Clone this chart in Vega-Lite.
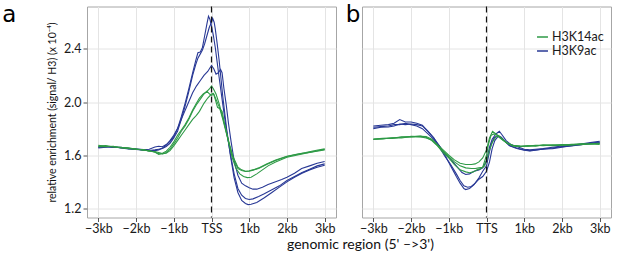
{
"$schema":"https://vega.github.io/schema/vega-lite/v6.json",
"padding":{"left":1,"top":2.5,"right":2,"bottom":0},
"bounds":"flush",
"config":{"font":"Lato","view":{"stroke":"#a6a6a6","strokeWidth":1},"text":{"font":"Lato"}},
"resolve":{"scale":{"color":"independent"},"legend":{"color":"independent"}},
"datasets":{
"a":[
{"s":"H3K9ac","r":1,"x":-3,"y":1.662},{"s":"H3K9ac","r":1,"x":-2.8,"y":1.668},{"s":"H3K9ac","r":1,"x":-2.6,"y":1.661},{"s":"H3K9ac","r":1,"x":-2.4,"y":1.657},{"s":"H3K9ac","r":1,"x":-2.2,"y":1.652},{"s":"H3K9ac","r":1,"x":-2,"y":1.646},{"s":"H3K9ac","r":1,"x":-1.8,"y":1.642},{"s":"H3K9ac","r":1,"x":-1.65,"y":1.645},{"s":"H3K9ac","r":1,"x":-1.5,"y":1.662},{"s":"H3K9ac","r":1,"x":-1.4,"y":1.668},{"s":"H3K9ac","r":1,"x":-1.3,"y":1.664},{"s":"H3K9ac","r":1,"x":-1.2,"y":1.68},{"s":"H3K9ac","r":1,"x":-1.1,"y":1.705},{"s":"H3K9ac","r":1,"x":-1,"y":1.74},{"s":"H3K9ac","r":1,"x":-0.9,"y":1.8},{"s":"H3K9ac","r":1,"x":-0.8,"y":1.89},{"s":"H3K9ac","r":1,"x":-0.7,"y":1.99},{"s":"H3K9ac","r":1,"x":-0.6,"y":2.1},{"s":"H3K9ac","r":1,"x":-0.5,"y":2.22},{"s":"H3K9ac","r":1,"x":-0.42,"y":2.31},{"s":"H3K9ac","r":1,"x":-0.36,"y":2.37},{"s":"H3K9ac","r":1,"x":-0.3,"y":2.375},{"s":"H3K9ac","r":1,"x":-0.24,"y":2.41},{"s":"H3K9ac","r":1,"x":-0.18,"y":2.5},{"s":"H3K9ac","r":1,"x":-0.12,"y":2.59},{"s":"H3K9ac","r":1,"x":-0.08,"y":2.645},{"s":"H3K9ac","r":1,"x":-0.04,"y":2.62},{"s":"H3K9ac","r":1,"x":0,"y":2.57},{"s":"H3K9ac","r":1,"x":0.05,"y":2.5},{"s":"H3K9ac","r":1,"x":0.1,"y":2.41},{"s":"H3K9ac","r":1,"x":0.15,"y":2.3},{"s":"H3K9ac","r":1,"x":0.2,"y":2.19},{"s":"H3K9ac","r":1,"x":0.3,"y":1.98},{"s":"H3K9ac","r":1,"x":0.4,"y":1.78},{"s":"H3K9ac","r":1,"x":0.5,"y":1.61},{"s":"H3K9ac","r":1,"x":0.6,"y":1.46},{"s":"H3K9ac","r":1,"x":0.7,"y":1.35},{"s":"H3K9ac","r":1,"x":0.8,"y":1.3},{"s":"H3K9ac","r":1,"x":0.9,"y":1.275},{"s":"H3K9ac","r":1,"x":1,"y":1.267},{"s":"H3K9ac","r":1,"x":1.1,"y":1.272},{"s":"H3K9ac","r":1,"x":1.25,"y":1.29},{"s":"H3K9ac","r":1,"x":1.4,"y":1.31},{"s":"H3K9ac","r":1,"x":1.6,"y":1.34},{"s":"H3K9ac","r":1,"x":1.8,"y":1.37},{"s":"H3K9ac","r":1,"x":2,"y":1.41},{"s":"H3K9ac","r":1,"x":2.2,"y":1.44},{"s":"H3K9ac","r":1,"x":2.4,"y":1.47},{"s":"H3K9ac","r":1,"x":2.6,"y":1.495},{"s":"H3K9ac","r":1,"x":2.8,"y":1.52},{"s":"H3K9ac","r":1,"x":3,"y":1.535},
{"s":"H3K9ac","r":2,"x":-3,"y":1.655},{"s":"H3K9ac","r":2,"x":-2.8,"y":1.66},{"s":"H3K9ac","r":2,"x":-2.6,"y":1.666},{"s":"H3K9ac","r":2,"x":-2.4,"y":1.655},{"s":"H3K9ac","r":2,"x":-2.2,"y":1.648},{"s":"H3K9ac","r":2,"x":-2,"y":1.644},{"s":"H3K9ac","r":2,"x":-1.8,"y":1.638},{"s":"H3K9ac","r":2,"x":-1.65,"y":1.634},{"s":"H3K9ac","r":2,"x":-1.5,"y":1.64},{"s":"H3K9ac","r":2,"x":-1.4,"y":1.645},{"s":"H3K9ac","r":2,"x":-1.3,"y":1.65},{"s":"H3K9ac","r":2,"x":-1.2,"y":1.665},{"s":"H3K9ac","r":2,"x":-1.1,"y":1.69},{"s":"H3K9ac","r":2,"x":-1,"y":1.73},{"s":"H3K9ac","r":2,"x":-0.9,"y":1.78},{"s":"H3K9ac","r":2,"x":-0.8,"y":1.87},{"s":"H3K9ac","r":2,"x":-0.7,"y":1.97},{"s":"H3K9ac","r":2,"x":-0.6,"y":2.08},{"s":"H3K9ac","r":2,"x":-0.5,"y":2.2},{"s":"H3K9ac","r":2,"x":-0.42,"y":2.28},{"s":"H3K9ac","r":2,"x":-0.36,"y":2.33},{"s":"H3K9ac","r":2,"x":-0.3,"y":2.36},{"s":"H3K9ac","r":2,"x":-0.24,"y":2.39},{"s":"H3K9ac","r":2,"x":-0.18,"y":2.44},{"s":"H3K9ac","r":2,"x":-0.12,"y":2.5},{"s":"H3K9ac","r":2,"x":-0.06,"y":2.56},{"s":"H3K9ac","r":2,"x":0,"y":2.6},{"s":"H3K9ac","r":2,"x":0.03,"y":2.63},{"s":"H3K9ac","r":2,"x":0.07,"y":2.6},{"s":"H3K9ac","r":2,"x":0.1,"y":2.55},{"s":"H3K9ac","r":2,"x":0.15,"y":2.44},{"s":"H3K9ac","r":2,"x":0.2,"y":2.32},{"s":"H3K9ac","r":2,"x":0.3,"y":2.04},{"s":"H3K9ac","r":2,"x":0.4,"y":1.8},{"s":"H3K9ac","r":2,"x":0.5,"y":1.6},{"s":"H3K9ac","r":2,"x":0.6,"y":1.43},{"s":"H3K9ac","r":2,"x":0.7,"y":1.32},{"s":"H3K9ac","r":2,"x":0.8,"y":1.26},{"s":"H3K9ac","r":2,"x":0.9,"y":1.237},{"s":"H3K9ac","r":2,"x":0.97,"y":1.229},{"s":"H3K9ac","r":2,"x":1.05,"y":1.232},{"s":"H3K9ac","r":2,"x":1.2,"y":1.245},{"s":"H3K9ac","r":2,"x":1.4,"y":1.28},{"s":"H3K9ac","r":2,"x":1.6,"y":1.32},{"s":"H3K9ac","r":2,"x":1.8,"y":1.36},{"s":"H3K9ac","r":2,"x":2,"y":1.4},{"s":"H3K9ac","r":2,"x":2.2,"y":1.435},{"s":"H3K9ac","r":2,"x":2.4,"y":1.465},{"s":"H3K9ac","r":2,"x":2.6,"y":1.49},{"s":"H3K9ac","r":2,"x":2.8,"y":1.51},{"s":"H3K9ac","r":2,"x":3,"y":1.525},
{"s":"H3K9ac","r":3,"x":-3,"y":1.66},{"s":"H3K9ac","r":3,"x":-2.8,"y":1.664},{"s":"H3K9ac","r":3,"x":-2.6,"y":1.658},{"s":"H3K9ac","r":3,"x":-2.4,"y":1.66},{"s":"H3K9ac","r":3,"x":-2.2,"y":1.65},{"s":"H3K9ac","r":3,"x":-2,"y":1.647},{"s":"H3K9ac","r":3,"x":-1.8,"y":1.64},{"s":"H3K9ac","r":3,"x":-1.65,"y":1.638},{"s":"H3K9ac","r":3,"x":-1.5,"y":1.635},{"s":"H3K9ac","r":3,"x":-1.4,"y":1.64},{"s":"H3K9ac","r":3,"x":-1.3,"y":1.655},{"s":"H3K9ac","r":3,"x":-1.2,"y":1.675},{"s":"H3K9ac","r":3,"x":-1.1,"y":1.71},{"s":"H3K9ac","r":3,"x":-1,"y":1.75},{"s":"H3K9ac","r":3,"x":-0.9,"y":1.8},{"s":"H3K9ac","r":3,"x":-0.77,"y":1.89},{"s":"H3K9ac","r":3,"x":-0.65,"y":1.97},{"s":"H3K9ac","r":3,"x":-0.5,"y":2.07},{"s":"H3K9ac","r":3,"x":-0.4,"y":2.12},{"s":"H3K9ac","r":3,"x":-0.3,"y":2.16},{"s":"H3K9ac","r":3,"x":-0.2,"y":2.2},{"s":"H3K9ac","r":3,"x":-0.1,"y":2.23},{"s":"H3K9ac","r":3,"x":0,"y":2.275},{"s":"H3K9ac","r":3,"x":0.06,"y":2.25},{"s":"H3K9ac","r":3,"x":0.12,"y":2.21},{"s":"H3K9ac","r":3,"x":0.18,"y":2.22},{"s":"H3K9ac","r":3,"x":0.24,"y":2.245},{"s":"H3K9ac","r":3,"x":0.28,"y":2.22},{"s":"H3K9ac","r":3,"x":0.33,"y":2.1},{"s":"H3K9ac","r":3,"x":0.39,"y":1.98},{"s":"H3K9ac","r":3,"x":0.45,"y":1.84},{"s":"H3K9ac","r":3,"x":0.52,"y":1.7},{"s":"H3K9ac","r":3,"x":0.6,"y":1.56},{"s":"H3K9ac","r":3,"x":0.7,"y":1.45},{"s":"H3K9ac","r":3,"x":0.8,"y":1.39},{"s":"H3K9ac","r":3,"x":0.9,"y":1.37},{"s":"H3K9ac","r":3,"x":1,"y":1.355},{"s":"H3K9ac","r":3,"x":1.1,"y":1.345},{"s":"H3K9ac","r":3,"x":1.2,"y":1.345},{"s":"H3K9ac","r":3,"x":1.35,"y":1.36},{"s":"H3K9ac","r":3,"x":1.5,"y":1.38},{"s":"H3K9ac","r":3,"x":1.7,"y":1.4},{"s":"H3K9ac","r":3,"x":1.86,"y":1.417},{"s":"H3K9ac","r":3,"x":2,"y":1.435},{"s":"H3K9ac","r":3,"x":2.2,"y":1.465},{"s":"H3K9ac","r":3,"x":2.39,"y":1.5},{"s":"H3K9ac","r":3,"x":2.6,"y":1.52},{"s":"H3K9ac","r":3,"x":2.8,"y":1.54},{"s":"H3K9ac","r":3,"x":3,"y":1.553},
{"s":"H3K14ac","r":1,"x":-3,"y":1.675},{"s":"H3K14ac","r":1,"x":-2.8,"y":1.668},{"s":"H3K14ac","r":1,"x":-2.6,"y":1.664},{"s":"H3K14ac","r":1,"x":-2.4,"y":1.658},{"s":"H3K14ac","r":1,"x":-2.2,"y":1.653},{"s":"H3K14ac","r":1,"x":-2,"y":1.645},{"s":"H3K14ac","r":1,"x":-1.8,"y":1.64},{"s":"H3K14ac","r":1,"x":-1.65,"y":1.632},{"s":"H3K14ac","r":1,"x":-1.5,"y":1.625},{"s":"H3K14ac","r":1,"x":-1.4,"y":1.607},{"s":"H3K14ac","r":1,"x":-1.3,"y":1.615},{"s":"H3K14ac","r":1,"x":-1.2,"y":1.63},{"s":"H3K14ac","r":1,"x":-1.1,"y":1.66},{"s":"H3K14ac","r":1,"x":-1,"y":1.7},{"s":"H3K14ac","r":1,"x":-0.9,"y":1.75},{"s":"H3K14ac","r":1,"x":-0.8,"y":1.79},{"s":"H3K14ac","r":1,"x":-0.7,"y":1.83},{"s":"H3K14ac","r":1,"x":-0.6,"y":1.88},{"s":"H3K14ac","r":1,"x":-0.5,"y":1.94},{"s":"H3K14ac","r":1,"x":-0.4,"y":1.99},{"s":"H3K14ac","r":1,"x":-0.32,"y":2.03},{"s":"H3K14ac","r":1,"x":-0.22,"y":2.06},{"s":"H3K14ac","r":1,"x":-0.12,"y":2.08},{"s":"H3K14ac","r":1,"x":-0.05,"y":2.1},{"s":"H3K14ac","r":1,"x":0,"y":2.12},{"s":"H3K14ac","r":1,"x":0.05,"y":2.1},{"s":"H3K14ac","r":1,"x":0.12,"y":2.06},{"s":"H3K14ac","r":1,"x":0.21,"y":1.98},{"s":"H3K14ac","r":1,"x":0.3,"y":1.88},{"s":"H3K14ac","r":1,"x":0.39,"y":1.78},{"s":"H3K14ac","r":1,"x":0.48,"y":1.68},{"s":"H3K14ac","r":1,"x":0.57,"y":1.59},{"s":"H3K14ac","r":1,"x":0.7,"y":1.51},{"s":"H3K14ac","r":1,"x":0.8,"y":1.49},{"s":"H3K14ac","r":1,"x":0.9,"y":1.48},{"s":"H3K14ac","r":1,"x":1,"y":1.483},{"s":"H3K14ac","r":1,"x":1.1,"y":1.49},{"s":"H3K14ac","r":1,"x":1.25,"y":1.5},{"s":"H3K14ac","r":1,"x":1.46,"y":1.53},{"s":"H3K14ac","r":1,"x":1.7,"y":1.56},{"s":"H3K14ac","r":1,"x":2,"y":1.59},{"s":"H3K14ac","r":1,"x":2.25,"y":1.605},{"s":"H3K14ac","r":1,"x":2.5,"y":1.618},{"s":"H3K14ac","r":1,"x":2.75,"y":1.63},{"s":"H3K14ac","r":1,"x":3,"y":1.645},
{"s":"H3K14ac","r":2,"x":-3,"y":1.67},{"s":"H3K14ac","r":2,"x":-2.8,"y":1.672},{"s":"H3K14ac","r":2,"x":-2.6,"y":1.662},{"s":"H3K14ac","r":2,"x":-2.4,"y":1.66},{"s":"H3K14ac","r":2,"x":-2.2,"y":1.65},{"s":"H3K14ac","r":2,"x":-2,"y":1.648},{"s":"H3K14ac","r":2,"x":-1.8,"y":1.638},{"s":"H3K14ac","r":2,"x":-1.65,"y":1.635},{"s":"H3K14ac","r":2,"x":-1.5,"y":1.622},{"s":"H3K14ac","r":2,"x":-1.4,"y":1.612},{"s":"H3K14ac","r":2,"x":-1.3,"y":1.61},{"s":"H3K14ac","r":2,"x":-1.2,"y":1.62},{"s":"H3K14ac","r":2,"x":-1.1,"y":1.645},{"s":"H3K14ac","r":2,"x":-1,"y":1.685},{"s":"H3K14ac","r":2,"x":-0.9,"y":1.73},{"s":"H3K14ac","r":2,"x":-0.8,"y":1.78},{"s":"H3K14ac","r":2,"x":-0.7,"y":1.82},{"s":"H3K14ac","r":2,"x":-0.6,"y":1.87},{"s":"H3K14ac","r":2,"x":-0.5,"y":1.93},{"s":"H3K14ac","r":2,"x":-0.4,"y":1.98},{"s":"H3K14ac","r":2,"x":-0.3,"y":2.02},{"s":"H3K14ac","r":2,"x":-0.2,"y":2.06},{"s":"H3K14ac","r":2,"x":-0.12,"y":2.08},{"s":"H3K14ac","r":2,"x":-0.05,"y":2.06},{"s":"H3K14ac","r":2,"x":0,"y":2.05},{"s":"H3K14ac","r":2,"x":0.06,"y":2.06},{"s":"H3K14ac","r":2,"x":0.12,"y":2.02},{"s":"H3K14ac","r":2,"x":0.21,"y":1.96},{"s":"H3K14ac","r":2,"x":0.3,"y":1.87},{"s":"H3K14ac","r":2,"x":0.39,"y":1.77},{"s":"H3K14ac","r":2,"x":0.48,"y":1.67},{"s":"H3K14ac","r":2,"x":0.57,"y":1.58},{"s":"H3K14ac","r":2,"x":0.7,"y":1.5},{"s":"H3K14ac","r":2,"x":0.8,"y":1.485},{"s":"H3K14ac","r":2,"x":0.9,"y":1.478},{"s":"H3K14ac","r":2,"x":1,"y":1.48},{"s":"H3K14ac","r":2,"x":1.1,"y":1.488},{"s":"H3K14ac","r":2,"x":1.25,"y":1.505},{"s":"H3K14ac","r":2,"x":1.46,"y":1.535},{"s":"H3K14ac","r":2,"x":1.7,"y":1.565},{"s":"H3K14ac","r":2,"x":2,"y":1.593},{"s":"H3K14ac","r":2,"x":2.25,"y":1.608},{"s":"H3K14ac","r":2,"x":2.5,"y":1.62},{"s":"H3K14ac","r":2,"x":2.75,"y":1.635},{"s":"H3K14ac","r":2,"x":3,"y":1.648},
{"s":"H3K14ac","r":3,"x":-3,"y":1.665},{"s":"H3K14ac","r":3,"x":-2.8,"y":1.665},{"s":"H3K14ac","r":3,"x":-2.6,"y":1.668},{"s":"H3K14ac","r":3,"x":-2.4,"y":1.655},{"s":"H3K14ac","r":3,"x":-2.2,"y":1.655},{"s":"H3K14ac","r":3,"x":-2,"y":1.645},{"s":"H3K14ac","r":3,"x":-1.8,"y":1.642},{"s":"H3K14ac","r":3,"x":-1.65,"y":1.63},{"s":"H3K14ac","r":3,"x":-1.5,"y":1.628},{"s":"H3K14ac","r":3,"x":-1.4,"y":1.62},{"s":"H3K14ac","r":3,"x":-1.3,"y":1.612},{"s":"H3K14ac","r":3,"x":-1.2,"y":1.615},{"s":"H3K14ac","r":3,"x":-1.1,"y":1.635},{"s":"H3K14ac","r":3,"x":-1,"y":1.67},{"s":"H3K14ac","r":3,"x":-0.9,"y":1.71},{"s":"H3K14ac","r":3,"x":-0.8,"y":1.75},{"s":"H3K14ac","r":3,"x":-0.7,"y":1.79},{"s":"H3K14ac","r":3,"x":-0.6,"y":1.83},{"s":"H3K14ac","r":3,"x":-0.5,"y":1.87},{"s":"H3K14ac","r":3,"x":-0.4,"y":1.9},{"s":"H3K14ac","r":3,"x":-0.32,"y":1.93},{"s":"H3K14ac","r":3,"x":-0.2,"y":1.99},{"s":"H3K14ac","r":3,"x":-0.1,"y":2.03},{"s":"H3K14ac","r":3,"x":0,"y":2.06},{"s":"H3K14ac","r":3,"x":0.05,"y":2.065},{"s":"H3K14ac","r":3,"x":0.1,"y":2.02},{"s":"H3K14ac","r":3,"x":0.16,"y":1.96},{"s":"H3K14ac","r":3,"x":0.22,"y":1.95},{"s":"H3K14ac","r":3,"x":0.28,"y":1.93},{"s":"H3K14ac","r":3,"x":0.35,"y":1.83},{"s":"H3K14ac","r":3,"x":0.45,"y":1.7},{"s":"H3K14ac","r":3,"x":0.55,"y":1.58},{"s":"H3K14ac","r":3,"x":0.65,"y":1.5},{"s":"H3K14ac","r":3,"x":0.75,"y":1.46},{"s":"H3K14ac","r":3,"x":0.85,"y":1.44},{"s":"H3K14ac","r":3,"x":0.95,"y":1.432},{"s":"H3K14ac","r":3,"x":1.05,"y":1.435},{"s":"H3K14ac","r":3,"x":1.2,"y":1.46},{"s":"H3K14ac","r":3,"x":1.35,"y":1.49},{"s":"H3K14ac","r":3,"x":1.5,"y":1.52},{"s":"H3K14ac","r":3,"x":1.7,"y":1.55},{"s":"H3K14ac","r":3,"x":2,"y":1.585},{"s":"H3K14ac","r":3,"x":2.25,"y":1.6},{"s":"H3K14ac","r":3,"x":2.5,"y":1.615},{"s":"H3K14ac","r":3,"x":2.75,"y":1.628},{"s":"H3K14ac","r":3,"x":3,"y":1.64}
],
"b":[
{"s":"H3K9ac","r":1,"x":-3,"y":1.82},{"s":"H3K9ac","r":1,"x":-2.8,"y":1.825},{"s":"H3K9ac","r":1,"x":-2.6,"y":1.83},{"s":"H3K9ac","r":1,"x":-2.45,"y":1.84},{"s":"H3K9ac","r":1,"x":-2.3,"y":1.868},{"s":"H3K9ac","r":1,"x":-2.15,"y":1.85},{"s":"H3K9ac","r":1,"x":-2,"y":1.85},{"s":"H3K9ac","r":1,"x":-1.85,"y":1.84},{"s":"H3K9ac","r":1,"x":-1.7,"y":1.825},{"s":"H3K9ac","r":1,"x":-1.55,"y":1.78},{"s":"H3K9ac","r":1,"x":-1.4,"y":1.73},{"s":"H3K9ac","r":1,"x":-1.25,"y":1.67},{"s":"H3K9ac","r":1,"x":-1.1,"y":1.61},{"s":"H3K9ac","r":1,"x":-0.95,"y":1.57},{"s":"H3K9ac","r":1,"x":-0.8,"y":1.52},{"s":"H3K9ac","r":1,"x":-0.65,"y":1.47},{"s":"H3K9ac","r":1,"x":-0.55,"y":1.455},{"s":"H3K9ac","r":1,"x":-0.45,"y":1.46},{"s":"H3K9ac","r":1,"x":-0.33,"y":1.48},{"s":"H3K9ac","r":1,"x":-0.2,"y":1.49},{"s":"H3K9ac","r":1,"x":-0.1,"y":1.505},{"s":"H3K9ac","r":1,"x":0,"y":1.56},{"s":"H3K9ac","r":1,"x":0.08,"y":1.66},{"s":"H3K9ac","r":1,"x":0.15,"y":1.72},{"s":"H3K9ac","r":1,"x":0.25,"y":1.76},{"s":"H3K9ac","r":1,"x":0.34,"y":1.78},{"s":"H3K9ac","r":1,"x":0.42,"y":1.75},{"s":"H3K9ac","r":1,"x":0.52,"y":1.71},{"s":"H3K9ac","r":1,"x":0.65,"y":1.68},{"s":"H3K9ac","r":1,"x":0.8,"y":1.665},{"s":"H3K9ac","r":1,"x":1,"y":1.645},{"s":"H3K9ac","r":1,"x":1.15,"y":1.64},{"s":"H3K9ac","r":1,"x":1.3,"y":1.645},{"s":"H3K9ac","r":1,"x":1.5,"y":1.65},{"s":"H3K9ac","r":1,"x":1.75,"y":1.66},{"s":"H3K9ac","r":1,"x":2,"y":1.67},{"s":"H3K9ac","r":1,"x":2.25,"y":1.675},{"s":"H3K9ac","r":1,"x":2.5,"y":1.685},{"s":"H3K9ac","r":1,"x":2.75,"y":1.695},{"s":"H3K9ac","r":1,"x":3,"y":1.705},
{"s":"H3K9ac","r":2,"x":-3,"y":1.81},{"s":"H3K9ac","r":2,"x":-2.8,"y":1.815},{"s":"H3K9ac","r":2,"x":-2.6,"y":1.82},{"s":"H3K9ac","r":2,"x":-2.45,"y":1.83},{"s":"H3K9ac","r":2,"x":-2.3,"y":1.83},{"s":"H3K9ac","r":2,"x":-2.15,"y":1.84},{"s":"H3K9ac","r":2,"x":-2,"y":1.83},{"s":"H3K9ac","r":2,"x":-1.85,"y":1.82},{"s":"H3K9ac","r":2,"x":-1.7,"y":1.8},{"s":"H3K9ac","r":2,"x":-1.55,"y":1.76},{"s":"H3K9ac","r":2,"x":-1.4,"y":1.72},{"s":"H3K9ac","r":2,"x":-1.25,"y":1.67},{"s":"H3K9ac","r":2,"x":-1.1,"y":1.6},{"s":"H3K9ac","r":2,"x":-0.95,"y":1.52},{"s":"H3K9ac","r":2,"x":-0.8,"y":1.44},{"s":"H3K9ac","r":2,"x":-0.7,"y":1.39},{"s":"H3K9ac","r":2,"x":-0.6,"y":1.35},{"s":"H3K9ac","r":2,"x":-0.55,"y":1.342},{"s":"H3K9ac","r":2,"x":-0.45,"y":1.35},{"s":"H3K9ac","r":2,"x":-0.33,"y":1.38},{"s":"H3K9ac","r":2,"x":-0.2,"y":1.43},{"s":"H3K9ac","r":2,"x":-0.1,"y":1.48},{"s":"H3K9ac","r":2,"x":0,"y":1.52},{"s":"H3K9ac","r":2,"x":0.06,"y":1.6},{"s":"H3K9ac","r":2,"x":0.12,"y":1.68},{"s":"H3K9ac","r":2,"x":0.2,"y":1.73},{"s":"H3K9ac","r":2,"x":0.3,"y":1.75},{"s":"H3K9ac","r":2,"x":0.39,"y":1.735},{"s":"H3K9ac","r":2,"x":0.48,"y":1.71},{"s":"H3K9ac","r":2,"x":0.6,"y":1.675},{"s":"H3K9ac","r":2,"x":0.8,"y":1.655},{"s":"H3K9ac","r":2,"x":1,"y":1.64},{"s":"H3K9ac","r":2,"x":1.15,"y":1.635},{"s":"H3K9ac","r":2,"x":1.3,"y":1.64},{"s":"H3K9ac","r":2,"x":1.5,"y":1.645},{"s":"H3K9ac","r":2,"x":1.75,"y":1.655},{"s":"H3K9ac","r":2,"x":2,"y":1.665},{"s":"H3K9ac","r":2,"x":2.25,"y":1.67},{"s":"H3K9ac","r":2,"x":2.5,"y":1.68},{"s":"H3K9ac","r":2,"x":2.75,"y":1.69},{"s":"H3K9ac","r":2,"x":3,"y":1.7},
{"s":"H3K9ac","r":3,"x":-3,"y":1.8},{"s":"H3K9ac","r":3,"x":-2.8,"y":1.81},{"s":"H3K9ac","r":3,"x":-2.6,"y":1.812},{"s":"H3K9ac","r":3,"x":-2.45,"y":1.82},{"s":"H3K9ac","r":3,"x":-2.3,"y":1.835},{"s":"H3K9ac","r":3,"x":-2.15,"y":1.83},{"s":"H3K9ac","r":3,"x":-2,"y":1.835},{"s":"H3K9ac","r":3,"x":-1.85,"y":1.83},{"s":"H3K9ac","r":3,"x":-1.7,"y":1.82},{"s":"H3K9ac","r":3,"x":-1.55,"y":1.78},{"s":"H3K9ac","r":3,"x":-1.4,"y":1.73},{"s":"H3K9ac","r":3,"x":-1.25,"y":1.66},{"s":"H3K9ac","r":3,"x":-1.1,"y":1.59},{"s":"H3K9ac","r":3,"x":-0.95,"y":1.53},{"s":"H3K9ac","r":3,"x":-0.8,"y":1.46},{"s":"H3K9ac","r":3,"x":-0.7,"y":1.41},{"s":"H3K9ac","r":3,"x":-0.6,"y":1.37},{"s":"H3K9ac","r":3,"x":-0.5,"y":1.36},{"s":"H3K9ac","r":3,"x":-0.4,"y":1.365},{"s":"H3K9ac","r":3,"x":-0.3,"y":1.39},{"s":"H3K9ac","r":3,"x":-0.2,"y":1.42},{"s":"H3K9ac","r":3,"x":-0.1,"y":1.44},{"s":"H3K9ac","r":3,"x":0,"y":1.48},{"s":"H3K9ac","r":3,"x":0.08,"y":1.55},{"s":"H3K9ac","r":3,"x":0.15,"y":1.65},{"s":"H3K9ac","r":3,"x":0.22,"y":1.71},{"s":"H3K9ac","r":3,"x":0.3,"y":1.74},{"s":"H3K9ac","r":3,"x":0.39,"y":1.73},{"s":"H3K9ac","r":3,"x":0.5,"y":1.7},{"s":"H3K9ac","r":3,"x":0.62,"y":1.67},{"s":"H3K9ac","r":3,"x":0.8,"y":1.65},{"s":"H3K9ac","r":3,"x":1,"y":1.638},{"s":"H3K9ac","r":3,"x":1.15,"y":1.632},{"s":"H3K9ac","r":3,"x":1.3,"y":1.638},{"s":"H3K9ac","r":3,"x":1.5,"y":1.648},{"s":"H3K9ac","r":3,"x":1.75,"y":1.65},{"s":"H3K9ac","r":3,"x":2,"y":1.66},{"s":"H3K9ac","r":3,"x":2.25,"y":1.672},{"s":"H3K9ac","r":3,"x":2.5,"y":1.68},{"s":"H3K9ac","r":3,"x":2.75,"y":1.688},{"s":"H3K9ac","r":3,"x":3,"y":1.695},
{"s":"H3K14ac","r":1,"x":-3,"y":1.72},{"s":"H3K14ac","r":1,"x":-2.75,"y":1.725},{"s":"H3K14ac","r":1,"x":-2.5,"y":1.73},{"s":"H3K14ac","r":1,"x":-2.25,"y":1.735},{"s":"H3K14ac","r":1,"x":-2,"y":1.74},{"s":"H3K14ac","r":1,"x":-1.75,"y":1.742},{"s":"H3K14ac","r":1,"x":-1.6,"y":1.74},{"s":"H3K14ac","r":1,"x":-1.45,"y":1.72},{"s":"H3K14ac","r":1,"x":-1.3,"y":1.68},{"s":"H3K14ac","r":1,"x":-1.15,"y":1.64},{"s":"H3K14ac","r":1,"x":-1,"y":1.6},{"s":"H3K14ac","r":1,"x":-0.85,"y":1.565},{"s":"H3K14ac","r":1,"x":-0.7,"y":1.54},{"s":"H3K14ac","r":1,"x":-0.55,"y":1.53},{"s":"H3K14ac","r":1,"x":-0.4,"y":1.53},{"s":"H3K14ac","r":1,"x":-0.3,"y":1.535},{"s":"H3K14ac","r":1,"x":-0.2,"y":1.55},{"s":"H3K14ac","r":1,"x":-0.1,"y":1.58},{"s":"H3K14ac","r":1,"x":0,"y":1.64},{"s":"H3K14ac","r":1,"x":0.08,"y":1.73},{"s":"H3K14ac","r":1,"x":0.16,"y":1.78},{"s":"H3K14ac","r":1,"x":0.25,"y":1.76},{"s":"H3K14ac","r":1,"x":0.35,"y":1.73},{"s":"H3K14ac","r":1,"x":0.5,"y":1.7},{"s":"H3K14ac","r":1,"x":0.7,"y":1.675},{"s":"H3K14ac","r":1,"x":0.9,"y":1.67},{"s":"H3K14ac","r":1,"x":1.1,"y":1.668},{"s":"H3K14ac","r":1,"x":1.3,"y":1.672},{"s":"H3K14ac","r":1,"x":1.5,"y":1.675},{"s":"H3K14ac","r":1,"x":1.75,"y":1.672},{"s":"H3K14ac","r":1,"x":2,"y":1.676},{"s":"H3K14ac","r":1,"x":2.25,"y":1.68},{"s":"H3K14ac","r":1,"x":2.5,"y":1.684},{"s":"H3K14ac","r":1,"x":2.75,"y":1.686},{"s":"H3K14ac","r":1,"x":3,"y":1.69},
{"s":"H3K14ac","r":2,"x":-3,"y":1.722},{"s":"H3K14ac","r":2,"x":-2.75,"y":1.728},{"s":"H3K14ac","r":2,"x":-2.5,"y":1.727},{"s":"H3K14ac","r":2,"x":-2.25,"y":1.738},{"s":"H3K14ac","r":2,"x":-2,"y":1.738},{"s":"H3K14ac","r":2,"x":-1.75,"y":1.745},{"s":"H3K14ac","r":2,"x":-1.6,"y":1.735},{"s":"H3K14ac","r":2,"x":-1.45,"y":1.71},{"s":"H3K14ac","r":2,"x":-1.3,"y":1.67},{"s":"H3K14ac","r":2,"x":-1.15,"y":1.62},{"s":"H3K14ac","r":2,"x":-1,"y":1.58},{"s":"H3K14ac","r":2,"x":-0.85,"y":1.53},{"s":"H3K14ac","r":2,"x":-0.7,"y":1.49},{"s":"H3K14ac","r":2,"x":-0.55,"y":1.475},{"s":"H3K14ac","r":2,"x":-0.45,"y":1.468},{"s":"H3K14ac","r":2,"x":-0.35,"y":1.475},{"s":"H3K14ac","r":2,"x":-0.25,"y":1.49},{"s":"H3K14ac","r":2,"x":-0.15,"y":1.5},{"s":"H3K14ac","r":2,"x":-0.05,"y":1.52},{"s":"H3K14ac","r":2,"x":0,"y":1.56},{"s":"H3K14ac","r":2,"x":0.08,"y":1.64},{"s":"H3K14ac","r":2,"x":0.16,"y":1.7},{"s":"H3K14ac","r":2,"x":0.25,"y":1.74},{"s":"H3K14ac","r":2,"x":0.32,"y":1.745},{"s":"H3K14ac","r":2,"x":0.42,"y":1.72},{"s":"H3K14ac","r":2,"x":0.55,"y":1.69},{"s":"H3K14ac","r":2,"x":0.7,"y":1.67},{"s":"H3K14ac","r":2,"x":0.9,"y":1.665},{"s":"H3K14ac","r":2,"x":1.1,"y":1.67},{"s":"H3K14ac","r":2,"x":1.3,"y":1.675},{"s":"H3K14ac","r":2,"x":1.5,"y":1.672},{"s":"H3K14ac","r":2,"x":1.75,"y":1.678},{"s":"H3K14ac","r":2,"x":2,"y":1.675},{"s":"H3K14ac","r":2,"x":2.25,"y":1.682},{"s":"H3K14ac","r":2,"x":2.5,"y":1.68},{"s":"H3K14ac","r":2,"x":2.75,"y":1.685},{"s":"H3K14ac","r":2,"x":3,"y":1.682},
{"s":"H3K14ac","r":3,"x":-3,"y":1.718},{"s":"H3K14ac","r":3,"x":-2.75,"y":1.722},{"s":"H3K14ac","r":3,"x":-2.5,"y":1.732},{"s":"H3K14ac","r":3,"x":-2.25,"y":1.73},{"s":"H3K14ac","r":3,"x":-2,"y":1.742},{"s":"H3K14ac","r":3,"x":-1.75,"y":1.738},{"s":"H3K14ac","r":3,"x":-1.6,"y":1.73},{"s":"H3K14ac","r":3,"x":-1.45,"y":1.715},{"s":"H3K14ac","r":3,"x":-1.3,"y":1.675},{"s":"H3K14ac","r":3,"x":-1.15,"y":1.63},{"s":"H3K14ac","r":3,"x":-1,"y":1.59},{"s":"H3K14ac","r":3,"x":-0.85,"y":1.55},{"s":"H3K14ac","r":3,"x":-0.7,"y":1.52},{"s":"H3K14ac","r":3,"x":-0.55,"y":1.505},{"s":"H3K14ac","r":3,"x":-0.4,"y":1.5},{"s":"H3K14ac","r":3,"x":-0.3,"y":1.5},{"s":"H3K14ac","r":3,"x":-0.2,"y":1.505},{"s":"H3K14ac","r":3,"x":-0.1,"y":1.51},{"s":"H3K14ac","r":3,"x":0,"y":1.6},{"s":"H3K14ac","r":3,"x":0.05,"y":1.68},{"s":"H3K14ac","r":3,"x":0.12,"y":1.75},{"s":"H3K14ac","r":3,"x":0.2,"y":1.76},{"s":"H3K14ac","r":3,"x":0.3,"y":1.75},{"s":"H3K14ac","r":3,"x":0.42,"y":1.72},{"s":"H3K14ac","r":3,"x":0.55,"y":1.69},{"s":"H3K14ac","r":3,"x":0.7,"y":1.672},{"s":"H3K14ac","r":3,"x":0.9,"y":1.668},{"s":"H3K14ac","r":3,"x":1.1,"y":1.672},{"s":"H3K14ac","r":3,"x":1.3,"y":1.668},{"s":"H3K14ac","r":3,"x":1.5,"y":1.678},{"s":"H3K14ac","r":3,"x":1.75,"y":1.675},{"s":"H3K14ac","r":3,"x":2,"y":1.68},{"s":"H3K14ac","r":3,"x":2.25,"y":1.678},{"s":"H3K14ac","r":3,"x":2.5,"y":1.686},{"s":"H3K14ac","r":3,"x":2.75,"y":1.684},{"s":"H3K14ac","r":3,"x":3,"y":1.688}
]},
"spacing":26,
"hconcat":[
{"width":249,"height":211,
"layer":[
{"data":{"name":"a"},"mark":{"type":"line","strokeWidth":1.1},
"encoding":{
"x":{"field":"x","type":"quantitative","scale":{"domain":[-3.3,3.3],"nice":false,"zero":false},
"axis":{"title":null,"values":[-3,-2.5,-2,-1.5,-1,-0.5,0,0.5,1,1.5,2,2.5,3],"labelExpr":"datum.value % 1 !== 0 ? '' : (datum.value === 0 ? 'TSS' : (datum.value < 0 ? '−' + abs(datum.value) + 'kb' : datum.value + 'kb'))","domain":false,"grid":true,"gridColor":{"condition":{"test":"datum.value % 1 !== 0","value":"#f3f3f3"},"value":"#e4e4e4"},"tickColor":{"condition":{"test":"datum.value % 1 !== 0","value":"transparent"},"value":"#555555"},"tickSize":4,"labelFontSize":12.5,"labelColor":"#1a1a1a","labelPadding":1,"labelOverlap":false,"labelFlush":false}},
"y":{"field":"y","type":"quantitative","scale":{"domain":[1.132,2.718],"nice":false,"zero":false},
"axis":{"title":"relative enrichment (signal/ H3) (x 10⁻⁴)","titleFontSize":10.5,"titleFontWeight":"normal","titleColor":"#111","titlePadding":6,"values":[1.2,1.4,1.6,1.8,2.0,2.2,2.4,2.6],"labelExpr":"round(datum.value*10) % 4 !== 0 ? '' : format(datum.value, '.1f')","domain":false,"grid":true,"gridColor":{"condition":{"test":"round(datum.value*10) % 4 !== 0","value":"#f3f3f3"},"value":"#e4e4e4"},"tickColor":{"condition":{"test":"round(datum.value*10) % 4 !== 0","value":"transparent"},"value":"#555555"},"tickSize":4,"labelFontSize":12.5,"labelColor":"#1a1a1a","labelPadding":2,"labelOverlap":false}},
"color":{"field":"s","type":"nominal","scale":{"domain":["H3K14ac","H3K9ac"],"range":["#2e9a46","#283895"]},"legend":null},
"detail":{"field":"r","type":"nominal"}}},
{"data":{"values":[{}]},"mark":{"type":"rule","strokeDash":[6,4],"color":"#111","strokeWidth":1.2},"encoding":{"x":{"datum":0}}},
{"data":{"values":[{}]},"mark":{"type":"text","font":"DejaVu Sans","fontSize":23,"align":"center","baseline":"alphabetic","color":"#000"},"encoding":{"x":{"datum":-5.36},"y":{"datum":2.605},"text":{"value":"a"}}}
]},
{"width":249,"height":211,
"layer":[
{"data":{"name":"b"},"mark":{"type":"line","strokeWidth":1.1},
"encoding":{
"x":{"field":"x","type":"quantitative","scale":{"domain":[-3.3,3.3],"nice":false,"zero":false},
"axis":{"title":"genomic region (5' –>3')","titleFontSize":14,"titleFontWeight":"normal","titleColor":"#111","titleX":-2,"titleY":31,"titleAlign":"center","titleBaseline":"alphabetic","values":[-3,-2.5,-2,-1.5,-1,-0.5,0,0.5,1,1.5,2,2.5,3],"labelExpr":"datum.value % 1 !== 0 ? '' : (datum.value === 0 ? 'TTS' : (datum.value < 0 ? '−' + abs(datum.value) + 'kb' : datum.value + 'kb'))","domain":false,"grid":true,"gridColor":{"condition":{"test":"datum.value % 1 !== 0","value":"#f3f3f3"},"value":"#e4e4e4"},"tickColor":{"condition":{"test":"datum.value % 1 !== 0","value":"transparent"},"value":"#555555"},"tickSize":4,"labelFontSize":12.5,"labelColor":"#1a1a1a","labelPadding":1,"labelOverlap":false,"labelFlush":false}},
"y":{"field":"y","type":"quantitative","scale":{"domain":[1.132,2.718],"nice":false,"zero":false},
"axis":{"title":null,"labels":false,"ticks":false,"values":[1.2,1.4,1.6,1.8,2.0,2.2,2.4,2.6],"domain":false,"grid":true,"gridColor":{"condition":{"test":"round(datum.value*10) % 4 !== 0","value":"#f3f3f3"},"value":"#e4e4e4"}}},
"color":{"field":"s","type":"nominal","scale":{"domain":["H3K14ac","H3K9ac"],"range":["#2e9a46","#283895"]},
"legend":{"title":null,"orient":"none","legendX":174,"legendY":24,"symbolType":"stroke","symbolStrokeWidth":1.5,"symbolSize":120,"labelFontSize":12.5,"labelColor":"#1a1a1a","rowPadding":1,"labelOffset":3}},
"detail":{"field":"r","type":"nominal"}}},
{"data":{"values":[{}]},"mark":{"type":"rule","strokeDash":[6,4],"color":"#111","strokeWidth":1.2},"encoding":{"x":{"datum":0}}},
{"data":{"values":[{}]},"mark":{"type":"text","font":"DejaVu Sans","fontSize":23,"align":"center","baseline":"alphabetic","color":"#000"},"encoding":{"x":{"datum":-3.54},"y":{"datum":2.605},"text":{"value":"b"}}}
]}
]
}
